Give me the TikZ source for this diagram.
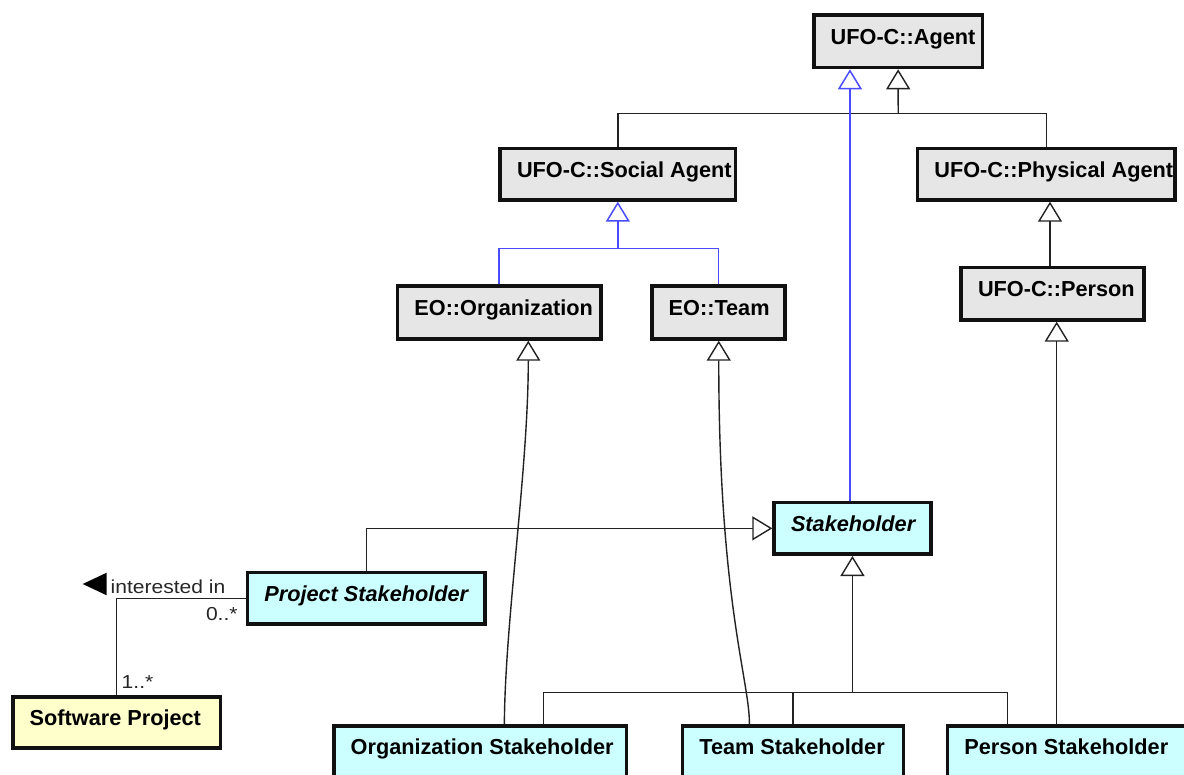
\documentclass[tikz,border=0pt]{standalone}
\usepackage{fontspec}
\setmainfont{Liberation Sans}
\newfontfamily\lblfont[FakeStretch=1.12]{Liberation Sans}
\usetikzlibrary{arrows.meta}

\definecolor{umlgray}{RGB}{230,230,230}
\definecolor{umlcyan}{RGB}{204,255,255}
\definecolor{umlyellow}{RGB}{255,255,204}
\definecolor{genblue}{RGB}{76,76,255}
\definecolor{linegray}{RGB}{34,34,34}
\definecolor{boxline}{RGB}{17,17,17}

\tikzset{
  box/.style={draw=boxline, line width=3.6pt, inner sep=0pt, rectangle},
  graybox/.style={fill=umlgray},
  cyanbox/.style={fill=umlcyan},
  yellowbox/.style={fill=umlyellow},
  ctext/.style={inner sep=0pt, text=black, font=\fontsize{21.7}{24}\selectfont\bfseries},
  atext/.style={inner sep=0pt, text=black, font=\fontsize{21.7}{24}\selectfont\bfseries\itshape},
  conn/.style={draw=linegray, line width=1.4pt},
  bconn/.style={draw=genblue, line width=1.5pt},
  gen/.style={-{Triangle[open,length=20pt,width=24pt]}},
  lbl/.style={inner sep=0pt, text=black!85, font=\lblfont\fontsize{18.8}{22}\selectfont},
}

% class box: name, fill style, text style, left, top, right, bottom, title
\newcommand{\umlclass}[8]{%
  \node[box, #2, minimum width={#6-#4-3.6}, minimum height={#7-#5-3.6}]
    (#1) at ({(#4+#6)/2},{(#5+#7)/2}) {};
  \node[#3, anchor=base west] (#1-t)
    at ([xshift=18.5pt,yshift=-30.8pt]#1.north west) {#8};
}

\begin{document}
\begin{tikzpicture}[x=1pt, y=-1pt]
  \useasboundingbox (0,0) rectangle (1184,775);
  \fill[white] (0,0) rectangle (1184,775);
  \clip (0,0) rectangle (1184,775);

  % classes
  \umlclass{agent}{graybox}{ctext}{812}{13.3}{984.3}{69.3}{UFO-C::Agent}
  \umlclass{social}{graybox}{ctext}{498.3}{146.7}{737.3}{201.7}{UFO-C::Social Agent}
  \umlclass{phys}{graybox}{ctext}{915.7}{146.7}{1176.7}{201.7}{UFO-C::Physical Agent}
  \umlclass{org}{graybox}{ctext}{395.7}{284.3}{602.7}{340.7}{EO::Organization}
  \umlclass{team}{graybox}{ctext}{650}{284.3}{786.7}{340.7}{EO::Team}
  \umlclass{person}{graybox}{ctext}{959.3}{265.7}{1145.7}{321.7}{UFO-C::Person}
  \umlclass{stake}{cyanbox}{atext}{772.3}{500.7}{932.6}{556}{Stakeholder}
  \umlclass{pstake}{cyanbox}{atext}{245.7}{570.7}{486.7}{626}{Project Stakeholder}
  \umlclass{swp}{yellowbox}{ctext}{11}{695}{222.3}{750}{Software Project}
  \umlclass{orgst}{cyanbox}{ctext}{332}{724}{628.3}{782}{Organization Stakeholder}
  \umlclass{teamst}{cyanbox}{ctext}{680.7}{724}{905.2}{782}{Team Stakeholder}
  \umlclass{persst}{cyanbox}{ctext}{945.7}{724}{1192}{782}{Person Stakeholder}

  % Social / Physical Agent specialise Agent
  \coordinate (j1) at (898.2,113.3);
  \draw[conn] (social.north) |- (j1) -| (phys.north);
  \draw[conn, gen] (j1) -- (agent.south);

  % Organization / Team specialise Social Agent
  \coordinate (j2) at (617.8,248.3);
  \draw[bconn] (org.north) |- (j2) -| (team.north);
  \draw[bconn, gen] (j2) -- (social.south);

  % Person specialises Physical Agent
  \coordinate (pp) at ([xshift=-2.5pt]person.north);
  \draw[conn, gen] (pp) -- (pp |- phys.south);

  % Stakeholder specialises Agent
  \coordinate (sb) at ([xshift=-2.5pt]stake.north);
  \draw[bconn, gen] (sb) -- (sb |- agent.south);

  % Project Stakeholder specialises Stakeholder
  \draw[conn, gen] (pstake.north) |- (stake.west);

  % concrete stakeholders specialise Stakeholder
  \coordinate (j3) at (852.45,692.3);
  \coordinate (o1) at ([xshift=63.2pt]orgst.north);
  \coordinate (p1) at ([xshift=-61.2pt]persst.north);
  \draw[conn] (o1) |- (j3) -| (p1);
  \draw[conn] (teamst.north) -- (teamst.north |- j3);
  \draw[conn, gen] (j3) -- (stake.south);

  % concrete stakeholders specialise their EO / UFO-C types
  \coordinate (oc1) at ([xshift=24.2pt]orgst.north);
  \coordinate (oc2) at ([xshift=29.1pt]org.south);
  \draw[conn, gen] (oc1) .. controls +(0.7,-104) and +(0,129.3) .. (oc2);
  \coordinate (tc1) at ([xshift=-43.5pt]teamst.north);
  \coordinate (tc2) at ([xshift=0.4pt]team.south);
  \draw[conn, gen] (tc1) .. controls +(0,-44) and +(0,259.3) .. (tc2);
  \coordinate (ps1) at ([xshift=4.2pt]person.south);
  \draw[conn, gen] (ps1 |- persst.north) -- (ps1);

  % association: Project Stakeholder interested in Software Project
  \draw[conn] (pstake.west) -| (swp.north);
  \node[lbl, anchor=base west] (assoc) at (110.5,593.3) {interested in};
  \fill[black] (82.7,584) -- (106.7,572.7) -- (106.7,595.3) -- cycle;
  \node[lbl, anchor=base west] (mult-ps) at (205.8,620) {0..*};
  \node[lbl, anchor=base west] (mult-sp) at (121.5,688.3) {1..*};
\end{tikzpicture}
\end{document}
